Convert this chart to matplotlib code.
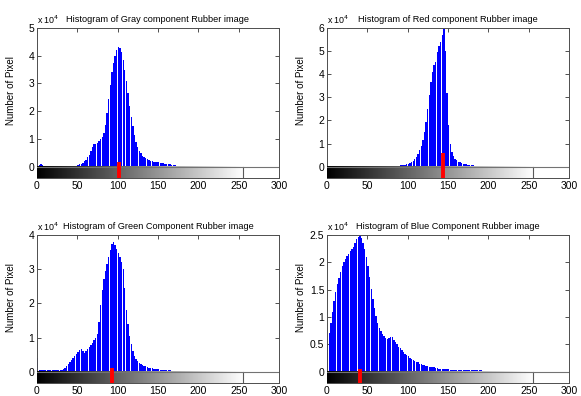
import numpy as np
import matplotlib
matplotlib.use('Agg')
import matplotlib.pyplot as plt

plt.rcParams['font.family'] = ['Liberation Sans', 'DejaVu Sans']

# histogram counts (x 10^4), one value per 2-level bin, starting at level 0
gray_counts = [0.04, 0.07, 0.08, 0.06, 0.04, 0.01, 0.01, 0.01, 0.01, 0.01,
               0.01, 0.01, 0.01, 0.01, 0.01, 0.01, 0.01, 0.01, 0.01, 0.01,
               0.01, 0.01, 0.02, 0.03, 0.04, 0.06, 0.08, 0.10, 0.14, 0.19,
               0.25, 0.33, 0.43, 0.58, 0.72, 0.80, 0.82, 0.86, 0.92, 0.98,
               1.08, 1.22, 1.50, 1.95, 2.45, 2.95, 3.40, 3.75, 4.00, 4.20,
               4.33, 4.28, 4.12, 3.85, 3.50, 3.10, 2.65, 2.20, 1.80, 1.45,
               1.15, 0.90, 0.72, 0.58, 0.48, 0.40, 0.35, 0.30, 0.27, 0.24,
               0.22, 0.20, 0.18, 0.17, 0.16, 0.15, 0.14, 0.13, 0.12, 0.11,
               0.10, 0.09, 0.08, 0.07, 0.06, 0.05, 0.04, 0.02]

red_counts = [0, 0, 0, 0, 0.02, 0.03, 0.03, 0.03, 0.03, 0.03,
              0.02, 0.01, 0, 0, 0, 0, 0, 0, 0, 0,
              0, 0, 0, 0, 0, 0, 0, 0, 0, 0,
              0, 0, 0, 0, 0, 0, 0, 0, 0, 0,
              0, 0, 0.02, 0.03, 0.04, 0.05, 0.06, 0.07, 0.08, 0.10,
              0.12, 0.15, 0.19, 0.25, 0.33, 0.42, 0.55, 0.70, 0.90, 1.15,
              1.50, 1.95, 2.50, 3.10, 3.65, 4.10, 4.40, 4.55, 4.95, 5.20,
              5.40, 5.70, 5.95, 5.00, 3.20, 1.80, 1.00, 0.65, 0.45, 0.35,
              0.28, 0.22, 0.18, 0.15, 0.13, 0.11, 0.10, 0.08, 0.07, 0.06,
              0.05, 0.04, 0.03, 0.02]

green_counts = [0.40, 0.06, 0.06, 0.05, 0.05, 0.05, 0.05, 0.05, 0.05, 0.05,
                0.05, 0.05, 0.05, 0.05, 0.05, 0.05, 0.08, 0.12, 0.17, 0.22,
                0.28, 0.34, 0.41, 0.47, 0.53, 0.59, 0.64, 0.66, 0.60, 0.56,
                0.60, 0.66, 0.72, 0.78, 0.85, 0.92, 1.00, 1.10, 1.45, 1.95,
                2.40, 2.70, 2.95, 3.15, 3.35, 3.55, 3.75, 3.80, 3.72, 3.60,
                3.48, 3.35, 3.20, 3.00, 2.45, 1.80, 1.40, 1.05, 0.80, 0.60,
                0.47, 0.38, 0.32, 0.27, 0.23, 0.20, 0.18, 0.16, 0.14, 0.12,
                0.11, 0.10, 0.09, 0.08, 0.08, 0.07, 0.06, 0.06, 0.05, 0.05,
                0.05, 0.04, 0.04, 0.03, 0.03, 0.02, 0.02, 0.01]

blue_counts = [0.50, 0.70, 0.90, 1.10, 1.30, 1.45, 1.60, 1.72, 1.83, 1.93,
               2.00, 2.06, 2.11, 2.16, 2.20, 2.24, 2.28, 2.35, 2.42, 2.47,
               2.48, 2.44, 2.36, 2.25, 2.10, 1.93, 1.73, 1.52, 1.33, 1.16,
               1.02, 0.90, 0.80, 0.74, 0.69, 0.65, 0.62, 0.60, 0.61, 0.64,
               0.63, 0.58, 0.54, 0.50, 0.46, 0.43, 0.39, 0.36, 0.33, 0.30,
               0.28, 0.26, 0.23, 0.21, 0.20, 0.18, 0.17, 0.15, 0.14, 0.13,
               0.12, 0.11, 0.10, 0.09, 0.09, 0.08, 0.08, 0.07, 0.07, 0.06,
               0.06, 0.05, 0.05, 0.05, 0.05, 0.05, 0.04, 0.04, 0.04, 0.04,
               0.04, 0.04, 0.04, 0.04, 0.04, 0.04, 0.03, 0.03, 0.03, 0.03,
               0.03, 0.03, 0.03, 0.03, 0.03, 0.03, 0.02, 0.02, 0.02, 0.02,
               0.02, 0.02, 0.02, 0.02, 0.02]

titles = ['Histogram of Gray component Rubber image',
          'Histogram of Red component Rubber image',
          'Histogram of Green Component Rubber image',
          'Histogram of Blue Component Rubber image']
y_max = [5, 6, 4, 2.5]
y_step = [1, 1, 1, 0.5]
mean_level = [101.5, 143.5, 93.5, 41.5]
marker_top = [0.15, 0.6, 0.12, 0.05]

# axes boxes in figure pixels: left, top, bottom
boxes = [(37, 28, 178), (327, 28, 178), (37, 235, 383), (327, 235, 383)]

W, H = 581, 396
fig = plt.figure(figsize=(W / 100, H / 100), dpi=100)

all_counts = [gray_counts, red_counts, green_counts, blue_counts]
grad = np.linspace(0, 1, 256).reshape(1, -1)

for i in range(4):
    left, top, bottom = boxes[i]
    ax = fig.add_axes([left / W, 1 - bottom / H, 242 / W, (bottom - top) / H])
    counts = np.array(all_counts[i]) * 1e4
    levels = np.arange(len(counts)) * 2
    ymax = y_max[i] * 1e4
    ymin = -ymax * 0.082

    ax.bar(levels, counts, width=1.7, align='edge', color='#0000ff',
           linewidth=0, antialiased=False, zorder=2)
    ax.imshow(grad, cmap='gray', extent=[0, 255.5, ymin, 0], aspect='auto',
              zorder=3, interpolation='bilinear')
    ax.plot([255.5, 255.5], [ymin, 0], color='0.35', lw=0.8, zorder=4)
    ax.axhline(0, color='0.45', lw=0.8, zorder=4)
    ax.plot([mean_level[i], mean_level[i]], [ymin, marker_top[i] * 1e4],
            color='red', lw=2.8, solid_capstyle='butt', zorder=5)

    ax.set_xlim(0, 300)
    ax.set_ylim(ymin, ymax)
    ax.set_xticks(np.arange(0, 301, 50))
    yt = np.arange(0, y_max[i] + 1e-9, y_step[i])
    ax.set_yticks(yt * 1e4)
    ax.set_yticklabels(['%g' % v for v in yt])
    ax.tick_params(direction='in', length=3, width=0.6, labelsize=7.5,
                   top=True, right=True, pad=2, colors='0.2')
    ax.tick_params(labelcolor='black')
    for s in ax.spines.values():
        s.set_color('0.3')
        s.set_linewidth(0.7)
    ax.set_ylabel('Number of Pixel', fontsize=7, labelpad=3)
    ax.yaxis.set_label_coords(-0.085, 0.58)
    ax.set_title(titles[i], fontsize=6.6, pad=4)
    ax.text(0.0, 1.012, r'x 10$^4$', transform=ax.transAxes, fontsize=6.4,
            ha='left', va='bottom')

fig.savefig('out.png', dpi=100)
